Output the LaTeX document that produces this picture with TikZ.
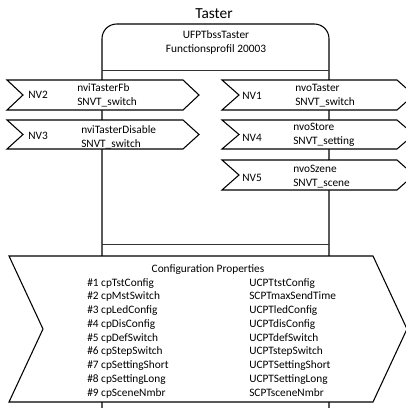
\documentclass[tikz,border=0pt]{standalone}
\usepackage{fontspec}
\setmainfont{Carlito}
\usetikzlibrary{calc}

\tikzset{
  nvshape/.style={draw, fill=white, line width=0.8pt, line join=miter},
  divider/.style={draw=black!80, line width=0.6pt},
  nvlabel/.style={font=\fontsize{8.5}{10.5}\selectfont, inner sep=0pt},
  nvtext/.style={font=\fontsize{8.5}{10.5}\selectfont, inner sep=0pt, anchor=west, align=left},
  cplist/.style={font=\fontsize{8.5}{10.3}\selectfont, inner sep=0pt, anchor=base west, align=left},
}

% left, top, right, bottom, depth
\newcommand{\nvarrow}[5]{%
  \draw[nvshape] (#1,#2) -- (#3,#2) -- ({#3+#5},{(#2+#4)/2}) -- (#3,#4) -- (#1,#4) -- ({#1+#5},{(#2+#4)/2}) -- cycle;}

\begin{document}
\begin{tikzpicture}[x=0.75pt,y=-0.75pt]
\useasboundingbox (0,0) rectangle (406,408);
% block
\draw[line width=0.8pt, rounded corners=11pt] (102,430) -- (102,24) -- (329,24) -- (329,430);
\draw[divider] (102,70) -- (329,70);
\draw[divider] (102,244) -- (329,244);
\node[font=\fontsize{11.5}{13}\selectfont, inner sep=0pt] (title) at (214,14) {Taster};
\node[nvlabel, align=center] (profile) at (216,42) {UFPTbssTaster\\Functionsprofil 20003};

% inputs
\nvarrow{7}{80}{183}{110}{16}
\node[nvlabel] (nv2) at (38,95) {NV2};
\node[nvtext] (nv2name) at (77,95.5) {nviTasterFb\\SNVT\_switch};
\nvarrow{7}{120}{183}{149}{16}
\node[nvlabel] (nv3) at (38,136) {NV3};
\node[nvtext] (nv3name) at (81,137) {nviTasterDisable\\SNVT\_switch};

% outputs
\nvarrow{222}{80}{397}{110}{17}
\node[nvlabel] (nv1) at (252,95.5) {NV1};
\node[nvtext] (nv1name) at (295,96) {nvoTaster\\SNVT\_switch};
\nvarrow{222}{120}{397}{149}{17}
\node[nvlabel] (nv4) at (252,138) {NV4};
\node[nvtext] (nv4name) at (293,135) {nvoStore\\SNVT\_setting};
\nvarrow{222}{160}{397}{190}{17}
\node[nvlabel] (nv5) at (252,178) {NV5};
\node[nvtext] (nv5name) at (293,177) {nvoSzene\\SNVT\_scene};

% config properties
\nvarrow{9}{256}{373}{402}{34}
\node[nvlabel] (cptitle) at (208,270) {Configuration Properties};
\node[cplist] (cpnames) at (87,396) {%
  \#1 cpTstConfig\\ \#2 cpMstSwitch\\ \#3 cpLedConfig\\ \#4 cpDisConfig\\
  \#5 cpDefSwitch\\ \#6 cpStepSwitch\\ \#7 cpSettingShort\\ \#8 cpSettingLong\\
  \#9 cpSceneNmbr};
\node[cplist] (cptypes) at (249,396) {%
  UCPTtstConfig\\ SCPTmaxSendTime\\ UCPTledConfig\\ UCPTdisConfig\\
  UCPTdefSwitch\\ UCPTstepSwitch\\ UCPTSettingShort\\ UCPTSettingLong\\
  SCPTsceneNmbr};
\end{tikzpicture}
\end{document}
